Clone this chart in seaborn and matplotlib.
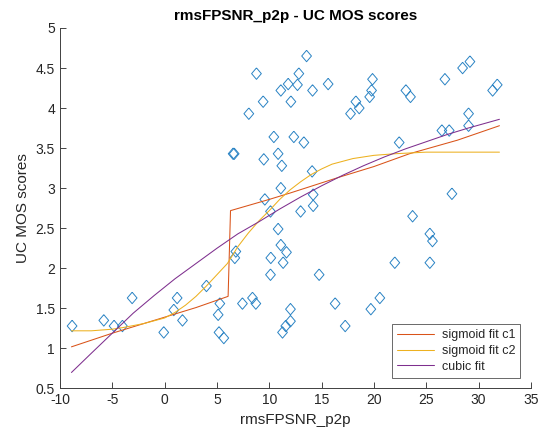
import matplotlib
matplotlib.use("Agg")
import matplotlib.pyplot as plt
import numpy as np
import pandas as pd
import seaborn as sns
from matplotlib.ticker import FuncFormatter

# scatter values
rms_fpsnr = [
    13.57, 8.78, 12.83, 11.81, 12.70, 11.11, 14.14, 15.63, 9.42, 12.07,
    8.05, 17.77, 10.44, 12.35, 13.31, 6.55, 6.65, 9.48, 10.85, 11.20,
    14.10, 11.11, 9.58, 14.20, 14.20, 10.12, 13.00, 19.87, 19.78, 19.60,
    18.28, 18.60, 23.06, 23.50, 26.79, 28.48, 29.18, 31.35, 31.79, 29.05,
    29.05, 26.50, 27.20, 22.42, 27.46, 23.70, 25.35, 25.60, 25.35, 22.00,
    14.77, 20.57, 19.71, 16.30, 17.26, 10.85, 11.11, 11.65, 10.15, 11.33,
    10.12, 6.81, 6.71, 4.00, 5.28, 5.12, 5.20, 5.66, 7.44, 8.40,
    8.72, 12.03, 12.03, 11.58, 11.27, -8.84, -5.81, -4.83, -4.03, -3.10,
    -0.08, 0.88, 1.20, 1.71,
]
uc_mos = [
    4.65, 4.43, 4.43, 4.30, 4.29, 4.22, 4.22, 4.30, 4.08, 4.08,
    3.93, 3.93, 3.64, 3.64, 3.57, 3.43, 3.43, 3.36, 3.43, 3.28,
    3.21, 3.00, 2.86, 2.92, 2.78, 2.71, 2.71, 4.36, 4.22, 4.14,
    4.08, 4.00, 4.22, 4.14, 4.36, 4.50, 4.58, 4.22, 4.29, 3.93,
    3.78, 3.72, 3.72, 3.57, 2.93, 2.65, 2.43, 2.34, 2.07, 2.07,
    1.92, 1.63, 1.49, 1.56, 1.28, 2.49, 2.29, 2.20, 2.13, 2.07,
    1.92, 2.21, 2.13, 1.78, 1.56, 1.42, 1.20, 1.13, 1.56, 1.63,
    1.56, 1.49, 1.34, 1.28, 1.20, 1.28, 1.35, 1.28, 1.28, 1.63,
    1.20, 1.48, 1.63, 1.35,
]

# fitted curves
sig1_x = [-8.9, -5, 0, 3, 6.07, 6.3, 10, 12, 16.75, 20, 23.4, 28, 32]
sig1_y = [1.02, 1.19, 1.39, 1.51, 1.65, 2.72, 2.86, 2.94, 3.14, 3.27, 3.43, 3.60, 3.78]

sig2_x = [-8.9, -7, -5, -4, -2, 0, 1, 2, 3, 4, 5, 6, 7, 8, 9, 10, 11, 12,
          13, 14, 15, 16, 18, 20, 22, 25, 28, 32]
sig2_y = [1.22, 1.22, 1.24, 1.26, 1.31, 1.38, 1.45, 1.54, 1.65, 1.78, 1.92,
          2.06, 2.27, 2.44, 2.59, 2.72, 2.86, 2.98, 3.08, 3.17, 3.24, 3.30,
          3.37, 3.41, 3.43, 3.45, 3.45, 3.45]

cubic_x = [-8.9, -7, -5, -3, -1, 1, 3, 5, 7, 9, 11, 13, 15, 17, 19, 21, 23,
           25, 27, 29, 32]
cubic_y = [0.70, 0.94, 1.19, 1.44, 1.66, 1.87, 2.06, 2.25, 2.43, 2.58, 2.74,
           2.89, 3.03, 3.16, 3.28, 3.39, 3.49, 3.58, 3.67, 3.75, 3.86]

x_ticks = [-10, -5, 0, 5, 10, 15, 20, 25, 30, 35]
y_ticks = [0.5, 1, 1.5, 2, 2.5, 3, 3.5, 4, 4.5, 5]

sns.set_style("white")
plt.rcParams["font.family"] = ["Liberation Sans", "DejaVu Sans"]
plt.rcParams["axes.unicode_minus"] = False

fig = plt.figure(figsize=(5.45, 4.37), dpi=100)
ax = fig.add_axes([0.110, 0.111, 0.864, 0.825])

# matlab style diamond, a bit taller than wide
diamond = [(0, 1), (0.85, 0), (0, -1), (-0.85, 0), (0, 1)]
points = pd.DataFrame({"x": rms_fpsnr, "y": uc_mos})
sns.scatterplot(
    data=points, x="x", y="y", ax=ax, marker=diamond, s=68,
    facecolor="none", edgecolor="#2a83c4", linewidth=0.7, legend=False,
)

curves = [
    (sig1_x, sig1_y, "#D95319", "sigmoid fit c1"),
    (sig2_x, sig2_y, "#EDB120", "sigmoid fit c2"),
    (cubic_x, cubic_y, "#7E2F8E", "cubic fit"),
]
for cx, cy, col, name in curves:
    sns.lineplot(x=cx, y=cy, ax=ax, color=col, lw=0.75, sort=False,
                 estimator=None, label=name)

ax.set_xlim(-10, 35)
ax.set_ylim(0.5, 5)
ax.set_xticks(x_ticks)
ax.set_yticks(y_ticks)
ax.yaxis.set_major_formatter(FuncFormatter(lambda v, p: "%g" % v))
ax.tick_params(direction="in", length=4, width=0.6, colors="#262626",
               labelsize=10, bottom=True, left=True)
for side in ["top", "right"]:
    ax.spines[side].set_visible(False)
for side in ["left", "bottom"]:
    ax.spines[side].set_color("#404040")
    ax.spines[side].set_linewidth(0.7)

ax.set_title("rmsFPSNR_p2p - UC MOS scores", fontsize=11, fontweight="bold",
             color="black", pad=6)
ax.set_xlabel("rmsFPSNR_p2p", fontsize=11, color="#262626")
ax.set_ylabel("UC MOS scores", fontsize=11, color="#262626")

leg = ax.legend(loc="lower right", fontsize=9, frameon=True, fancybox=False,
                handlelength=3.0, labelspacing=0.3, borderaxespad=0.85,
                borderpad=0.4, handletextpad=0.6)
leg.get_frame().set_edgecolor("#262626")
leg.get_frame().set_linewidth(0.6)

fig.savefig("out.png", dpi=100)
